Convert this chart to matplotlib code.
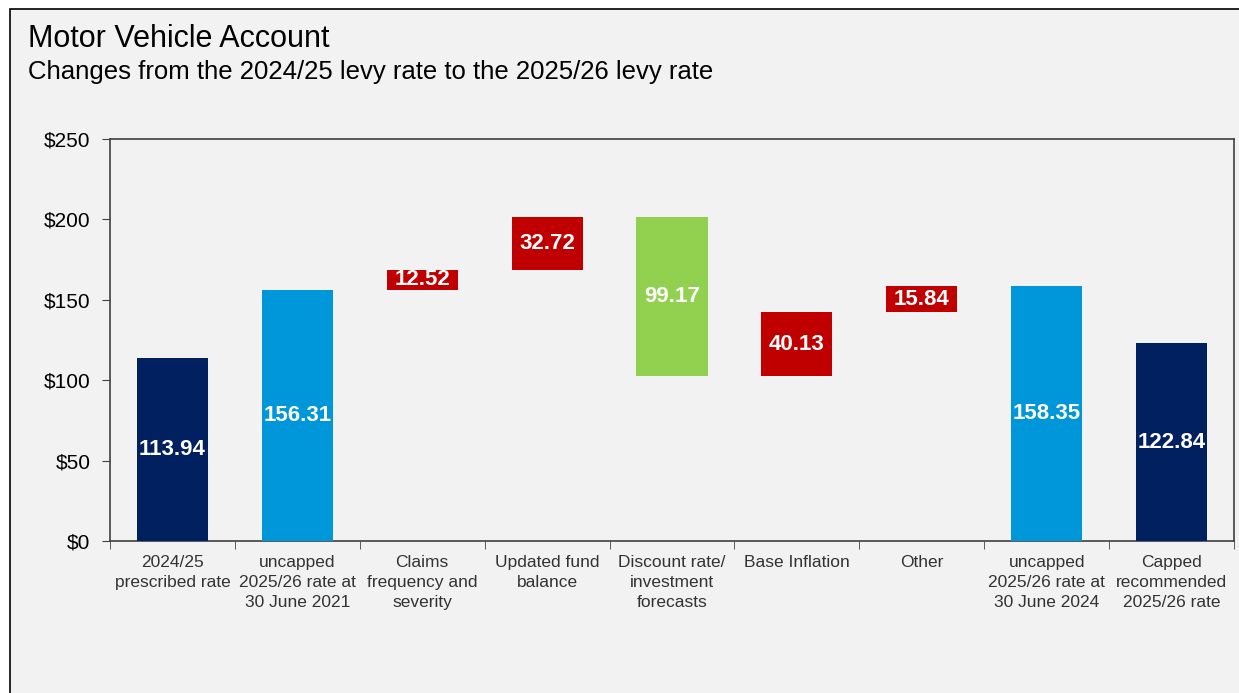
import matplotlib
matplotlib.use("Agg")
from matplotlib import pyplot as plt
from matplotlib.patches import Rectangle
from matplotlib.ticker import FuncFormatter, FixedLocator

plt.rcParams['font.family'] = ['Liberation Sans', 'DejaVu Sans']

# 数据
categories = ['2024/25\nprescribed rate',
              'uncapped\n2025/26 rate at\n30 June 2021',
              'Claims\nfrequency and\nseverity',
              'Updated fund\nbalance',
              'Discount rate/\ninvestment\nforecasts',
              'Base Inflation',
              'Other',
              'uncapped\n2025/26 rate at\n30 June 2024',
              'Capped\nrecommended\n2025/26 rate']
values = [113.94, 156.31, 12.52, 32.72, -99.17, 40.13, 15.84, 158.35, 122.84]
kinds = ['total', 'total', 'step', 'step', 'step', 'step', 'step', 'total', 'total']
colors = ['#002060', '#0096DA', '#C00000', '#C00000', '#92D050',
          '#C00000', '#C00000', '#0096DA', '#002060']

# 计算瀑布图底部
bottoms = []
heights = []
level = 0
for v, k in zip(values, kinds):
    if k == 'total':
        bottoms.append(0)
        heights.append(v)
        level = v
    else:
        if v >= 0:
            bottoms.append(level)
        else:
            bottoms.append(level + v)
        heights.append(abs(v))
        level = level + v

fig = plt.figure(figsize=(12.39, 6.93), dpi=100)
fig.patch.set_facecolor('white')
# 背景框
fig.patches.append(Rectangle((10 / 1239, -0.1), 1.2, 1 - 9 / 693 + 0.1,
                             transform=fig.transFigure, facecolor='#F2F2F2',
                             edgecolor='black', linewidth=1.2, zorder=-10))

ax = fig.add_axes([110 / 1239, 1 - 541 / 693, (1234 - 110) / 1239, (541 - 139) / 693])
ax.set_facecolor('#F2F2F2')

x = list(range(len(categories)))
ax.bar(x, heights, bottom=bottoms, width=0.57, color=colors, zorder=3)

for i in x:
    ax.text(i, bottoms[i] + heights[i] / 2, f'{abs(values[i]):.2f}',
            ha='center', va='center', color='white', fontsize=16,
            fontweight='bold', zorder=4)

ax.set_xlim(-0.5, len(categories) - 0.5)
ax.set_ylim(0, 250)
ax.set_yticks([0, 50, 100, 150, 200, 250])
ax.yaxis.set_major_formatter(FuncFormatter(lambda v, p: f'${v:.0f}'))
ax.tick_params(axis='y', labelsize=15, length=6, color='#404040', pad=8, labelcolor='black')

ax.set_xticks(x)
ax.set_xticklabels(categories, fontsize=12.5, color='#333333', linespacing=1.42)
ax.tick_params(axis='x', which='major', length=0, pad=10)
ax.xaxis.set_minor_locator(FixedLocator([i + 0.5 for i in range(-1, len(categories))]))
ax.tick_params(axis='x', which='minor', length=6, color='#404040')

for s in ax.spines.values():
    s.set_color('#404040')
    s.set_linewidth(1.2)

fig.text(28 / 1239, 1 - 47 / 693, 'Motor Vehicle Account', fontsize=22, va='baseline')
fig.text(28 / 1239, 1 - 79 / 693, 'Changes from the 2024/25 levy rate to the 2025/26 levy rate',
         fontsize=18.5, va='baseline')

plt.savefig('out.png', dpi=100)
